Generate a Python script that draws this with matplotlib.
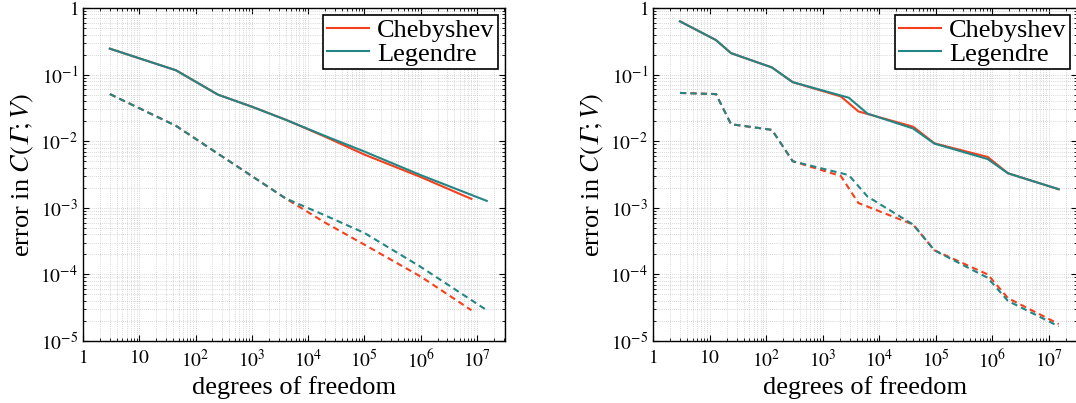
''' Sparse grid error plots: Chebyshev vs Legendre, two panels. '''
import numpy as np
import matplotlib
matplotlib.use('Agg')
import matplotlib.pyplot as plt
from matplotlib.ticker import FixedLocator, NullFormatter

plt.rcParams['font.family'] = ['Liberation Serif', 'DejaVu Serif']
plt.rcParams['mathtext.fontset'] = 'stix'

# Left panel
left_cheb_dof = [3, 45, 250, 1e3, 4e3, 2e4, 1e5, 1e6, 8e6]
left_cheb_solid = [0.245, 0.116, 0.050, 0.033, 0.021, 0.0117, 0.0063, 0.0029, 0.00136]
left_cheb_dash = [0.051, 0.017, 0.0065, 0.0030, 0.00138, 6.0e-4, 2.8e-4, 9.3e-5, 2.9e-5]
left_leg_dof = [3, 45, 250, 1e3, 4e3, 2e4, 1e5, 1e6, 1.5e7]
left_leg_solid = [0.245, 0.116, 0.050, 0.033, 0.021, 0.012, 0.0070, 0.0031, 0.00127]
left_leg_dash = [0.051, 0.017, 0.0065, 0.0030, 0.00138, 7.7e-4, 4.2e-4, 1.3e-4, 2.9e-5]

# Right panel
right_cheb_dof = [3, 13, 24, 127, 296, 2100, 4300, 4e4, 9.5e4, 8.3e5, 1.9e6, 1.5e7]
right_cheb_solid = [0.63, 0.33, 0.21, 0.128, 0.077, 0.047, 0.028, 0.0165, 0.0093, 0.0058, 0.0033, 0.0019]
right_cheb_dash = [0.053, 0.051, 0.018, 0.0148, 0.0050, 0.0030, 0.00118, 5.6e-4, 2.3e-4, 1.0e-4, 4.4e-5, 1.8e-5]
right_leg_dof = [3, 13, 24, 127, 296, 2900, 6200, 4e4, 9.5e4, 8.3e5, 1.9e6, 1.5e7]
right_leg_solid = [0.63, 0.33, 0.21, 0.128, 0.077, 0.045, 0.026, 0.0155, 0.0092, 0.0054, 0.0033, 0.0019]
right_leg_dash = [0.053, 0.051, 0.018, 0.0148, 0.0050, 0.0031, 0.00148, 5.6e-4, 2.3e-4, 8.9e-5, 4.0e-5, 1.66e-5]

xticks = [10.0**k for k in range(8)]
xticklabels = ['$1$', '$10$'] + [r'$10^{%d}$' % k for k in range(2, 8)]
yticks = [10.0**k for k in range(-5, 1)]
yticklabels = [r'$10^{-%d}$' % k for k in range(5, 0, -1)] + ['$1$']

red = '#f5401e'
teal = '#248585'

W, H = 1076, 403
fig = plt.figure(figsize=(W/100, H/100), dpi=100)
ax1 = fig.add_axes([83/W, 1-341/H, 422/W, 333/H])
ax2 = fig.add_axes([653/W, 1-341/H, 424/W, 333/H])

panels = [(ax1, left_cheb_dof, left_cheb_solid, left_cheb_dash, left_leg_dof, left_leg_solid, left_leg_dash),
          (ax2, right_cheb_dof, right_cheb_solid, right_cheb_dash, right_leg_dof, right_leg_solid, right_leg_dash)]

for ax, cx, cs, cd, lx, ls, ld in panels:
    ax.set_xscale('log')
    ax.set_yscale('log')
    ax.plot(cx, cs, color=red, lw=1.5, label='Chebyshev')
    ax.plot(lx, ls, color=teal, lw=1.5, label='Legendre')
    ax.plot(cx, cd, '--', color=red, lw=1.5, dashes=(3, 2))
    ax.plot(lx, ld, '--', color=teal, lw=1.5, dashes=(3, 2))
    ax.set_xlim(1, 10**7.5)
    ax.set_ylim(1e-5, 1)
    ax.xaxis.set_major_locator(FixedLocator(xticks))
    ax.set_xticklabels(xticklabels)
    ax.yaxis.set_major_locator(FixedLocator(yticks))
    ax.set_yticklabels(yticklabels)
    minors_x = [m*10.0**k for k in range(0, 8) for m in range(2, 10)]
    minors_y = [m*10.0**k for k in range(-5, 0) for m in range(2, 10)]
    ax.xaxis.set_minor_locator(FixedLocator(minors_x))
    ax.yaxis.set_minor_locator(FixedLocator(minors_y))
    ax.xaxis.set_minor_formatter(NullFormatter())
    ax.yaxis.set_minor_formatter(NullFormatter())
    ax.tick_params(which='both', direction='in', top=True, right=True, labelsize=14)
    ax.tick_params(axis='x', which='major', pad=6)
    ax.tick_params(which='major', length=4, width=0.8)
    ax.tick_params(which='minor', length=2, width=0.6)
    ax.grid(True, which='both', color='#b4b4b4', linestyle=(0, (1, 2)), linewidth=0.5)
    ax.set_axisbelow(True)
    for sp in ax.spines.values():
        sp.set_linewidth(1.0)
    ax.set_xlabel('degrees of freedom', fontsize=19, labelpad=3)
    ax.set_ylabel('error in $C(\U0001D6E4;V)$', fontsize=19, labelpad=3)
    leg = ax.legend(loc='upper right', fontsize=19, fancybox=False, framealpha=1,
                    edgecolor='black', borderpad=0.15, labelspacing=0.0,
                    handlelength=1.6, handletextpad=0.3, borderaxespad=0.25)
    leg.get_frame().set_linewidth(1.2)

fig.savefig('out.png', dpi=100)
